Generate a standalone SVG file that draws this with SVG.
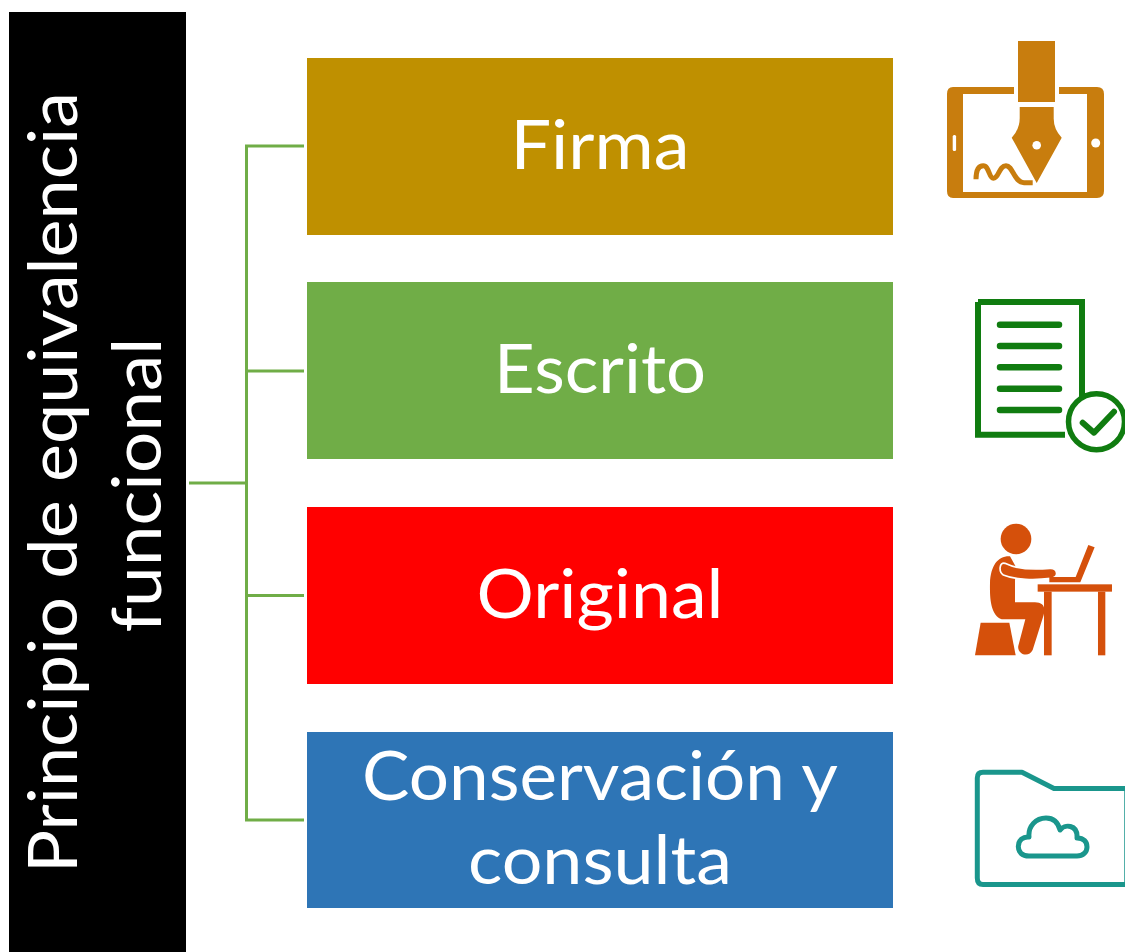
<svg xmlns="http://www.w3.org/2000/svg" width="1125" height="952" viewBox="0 0 1125 952">
<style>
.t{font-family:"Lato","Carlito","Open Sans",sans-serif;fill:#fff;text-anchor:middle;font-size:67px}
.c{fill:none;stroke:#70AD47;stroke-width:3}
.ln{stroke:#107C10;stroke-width:6.5;stroke-linecap:round;fill:none}
</style>
<rect width="1125" height="952" fill="#fff"/>
<g id="connectors">
<path class="c" d="M189 483H246.500M304 146H246.500V820H304M246.500 371H304M246.500 595.500H304"/>
</g>
<g id="root">
<rect x="9" y="12" width="177" height="940" fill="#000"/>
<text class="t" transform="translate(77 482.500) rotate(-90)" textLength="781" lengthAdjust="spacingAndGlyphs">Principio de equivalencia</text>
<text class="t" transform="translate(161 485) rotate(-90)" textLength="295" lengthAdjust="spacingAndGlyphs">funcional</text>
</g>
<g id="firma">
<rect x="307" y="58" width="586" height="177" fill="#BF9000"/>
<text class="t" x="600" y="169" textLength="179" lengthAdjust="spacingAndGlyphs">Firma</text>
</g>
<g id="escrito">
<rect x="307" y="282" width="586" height="177" fill="#70AD47"/>
<text class="t" x="600" y="393" textLength="212" lengthAdjust="spacingAndGlyphs">Escrito</text>
</g>
<g id="original">
<rect x="307" y="507" width="586" height="177" fill="#FF0000"/>
<text class="t" x="600" y="618" textLength="247" lengthAdjust="spacingAndGlyphs">Original</text>
</g>
<g id="conservacion">
<rect x="307" y="732" width="586" height="176" fill="#2E75B6"/>
<text class="t" x="600" y="800" textLength="476" lengthAdjust="spacingAndGlyphs">Conservación y</text>
<text class="t" x="600" y="884" textLength="264" lengthAdjust="spacingAndGlyphs">consulta</text>
</g>
<g id="icon-firma" fill="#C87D0E">
<path fill-rule="evenodd" d="M953 87H1014V94H963V192H1087V94H1059V87H1097Q1104 87 1104 94V191Q1104 198 1097 198H953Q947 198 947 191V94Q947 87 953 87Z"/>
<rect x="1018" y="41" width="37" height="61"/>
<path d="M1019.700 107H1053.700V118Q1053.500 129 1061.700 137.700L1036.700 183L1011.700 137.700Q1019.700 129 1019.700 118Z"/>
<circle cx="1036.700" cy="145.300" r="4.300" fill="#fff"/>
<circle cx="1095.700" cy="143" r="4.500" fill="#fff"/>
<rect x="952.700" y="135" width="3.400" height="16" rx="1.500" fill="#fff"/>
<path d="M976 179.300C976 170 979 165.700 983.300 165.700C989 165.700 989 178.300 993.300 178.300C999 178.300 999 165.700 1006 165.700C1013 165.700 1014 182.700 1024 182.700H1032.700" fill="none" stroke="#C87D0E" stroke-width="5"/>
</g>
<g id="icon-escrito">
<path d="M978 302H1082V408M1065 434.700H978V302" fill="none" stroke="#107C10" stroke-width="6"/>
<path class="ln" d="M1000 324.700H1059M1000 346H1059M1000 367.300H1059M1000 388.700H1059M1000 410H1059"/>
<circle cx="1096.500" cy="421.700" r="28" fill="#fff" stroke="#107C10" stroke-width="5.500"/>
<path d="M1082.700 422.700L1094 432.700L1114 411.700" fill="none" stroke="#107C10" stroke-width="6" stroke-linecap="round" stroke-linejoin="round"/>
</g>
<g id="icon-original" fill="#D5500B" transform="translate(960 515) scale(.3333)">
<circle cx="168" cy="72" r="46"/>
<rect x="233" y="208" width="223" height="22"/>
<rect x="252" y="230" width="23" height="191"/>
<rect x="414" y="230" width="22" height="191"/>
<path d="M62 323H148L167 421H45Z"/>
<path d="M150 124C115 122 92 150 90 205C89 250 92 300 125 313H196L175 392C170 415 205 432 218 405L251 300C258 275 248 262 225 262H165V195L170 160Z"/>
<path d="M135 145C165 160 215 165 270 160C295 158 297 190 272 190C225 196 165 195 130 180C115 170 118 140 135 145Z" stroke="#fff" stroke-width="5"/>
<path d="M385 90L404 97L361 202H268V186H347Z"/>
</g>
<g id="icon-conservacion" fill="none" stroke="#1A968C" stroke-width="5" stroke-linejoin="round">
<path d="M1127 788.500H1054L1022 772.300H983Q977.300 772.300 977.300 778V878Q977.300 884.500 983 884.500H1127"/>
<path d="M1125 788.500V884.500" stroke-width="1.500"/>
<path d="M1029 856C1022 856 1018.300 852 1018.300 846.500C1018.300 840 1023 836.500 1029 837C1028 826 1036 818 1046 818C1053 818 1058 822 1060 830C1064 824 1078 824 1077 838C1084 838 1087 842 1087 847C1087 852 1083 856 1077 856Z"/>
</g>
</svg>
